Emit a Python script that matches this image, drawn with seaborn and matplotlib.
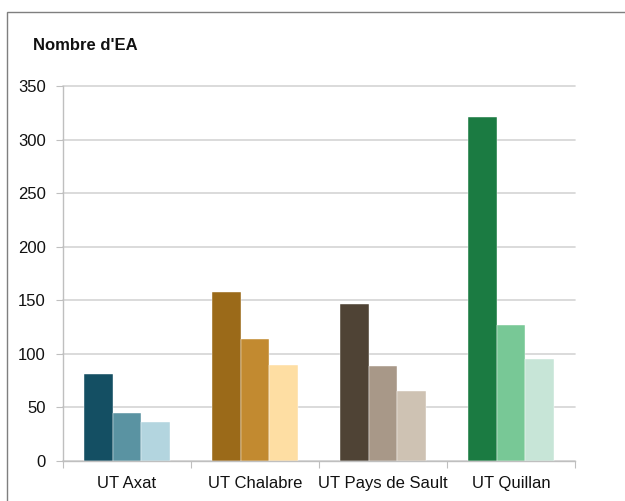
import matplotlib
matplotlib.use("Agg")
import matplotlib.pyplot as plt
import seaborn as sns
import pandas as pd
from matplotlib.patches import Rectangle

categories = ["UT Axat", "UT Chalabre", "UT Pays de Sault", "UT Quillan"]
series = ["s1", "s2", "s3"]
values_s1 = [81, 158, 147, 321]
values_s2 = [45, 114, 89, 127]
values_s3 = [36, 90, 65, 95]

group_colors = [
    ["#144F63", "#5A93A2", "#B3D5DF"],
    ["#9B6A19", "#C28A30", "#FEDEA3"],
    ["#4F4335", "#A89888", "#CEC2B3"],
    ["#1B7B42", "#78C896", "#C7E5D7"],
]

rows = []
for s, vals in zip(series, [values_s1, values_s2, values_s3]):
    for c, v in zip(categories, vals):
        rows.append({"cat": c, "series": s, "val": v})
df = pd.DataFrame(rows)

sns.set_style("white")
plt.rcParams['font.family'] = ['Liberation Sans', 'DejaVu Sans']

fig = plt.figure(figsize=(6.25, 5.01), dpi=100)
ax = fig.add_axes([63/625, 1-461/501, (575-63)/625, (461-86)/501])

sns.barplot(data=df, x="cat", y="val", hue="series", order=categories,
            hue_order=series, width=0.67, ax=ax, legend=False,
            linewidth=0, saturation=1, errorbar=None)

# recolor patches: order is by hue level then category
for i, p in enumerate(ax.patches):
    si = i // len(categories)
    ci = i % len(categories)
    p.set_facecolor(group_colors[ci][si])
    p.set_edgecolor("#FFFFFF")
    p.set_linewidth(0.3)

txt = "#111111"
ax.set_ylim(0, 350)
ax.set_xlim(-0.5, 3.5)
ax.set_yticks(range(0, 351, 50))
ax.yaxis.grid(True, color="#D4D4D4", linewidth=1.2)
for gl in ax.get_ygridlines():
    gl.set_clip_on(False)
ax.set_axisbelow(True)
ax.set_xlabel("")
ax.set_ylabel("")

ax.set_xticks([-0.5, 0.5, 1.5, 2.5, 3.5])
ax.set_xticklabels([])
ax.set_xticks(range(len(categories)), minor=True)
ax.set_xticklabels(categories, minor=True, fontsize=12, color=txt)
ax.tick_params(axis="x", which="major", length=5, color="#BFBFBF", direction="out", bottom=True)
ax.tick_params(axis="x", which="minor", length=0, pad=10.5)
ax.tick_params(axis="y", length=5, color="#BFBFBF", direction="out", left=True,
               labelsize=12, labelcolor=txt, pad=7.5)

for side in ["top", "right"]:
    ax.spines[side].set_visible(False)
for side in ["left", "bottom"]:
    ax.spines[side].set_color("#BFBFBF")
    ax.spines[side].set_linewidth(1)

fig.text(33/625, 1-46/501, "Nombre d'EA", fontsize=12, fontweight="bold",
         va="center", ha="left", color=txt)

fig.patches.append(Rectangle((7/625, -0.1), 1.0, 1.1 - 12/501,
                             transform=fig.transFigure, fill=False,
                             edgecolor="#7F7F7F", linewidth=1))

fig.savefig("out.png", dpi=100)
